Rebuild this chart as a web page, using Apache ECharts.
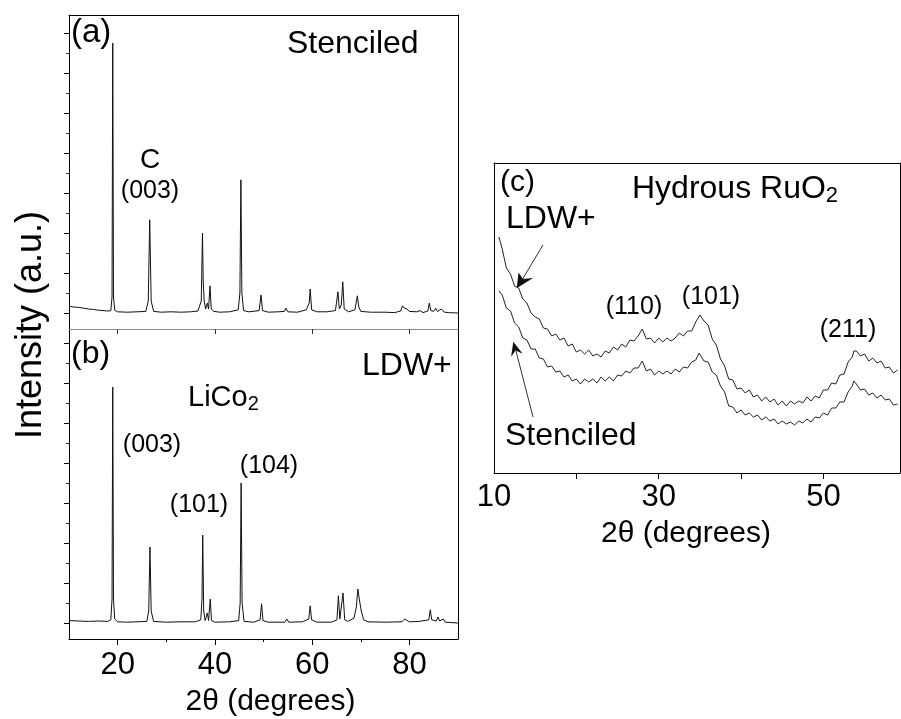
<!DOCTYPE html>
<html><head><meta charset="utf-8">
<script src="https://cdn.jsdelivr.net/npm/echarts@6/dist/echarts.min.js"></script>
<style>html,body{margin:0;padding:0;background:#fff}#chart{width:901px;height:719px}</style>
</head><body><div id="chart"></div>
<script>
const FONT = '"Liberation Sans", Arial, Helvetica, sans-serif';

// (a) Stenciled LiCoO2 XRD: [2theta, intensity a.u.]
const stenciledXRD = [[10,0.17],[11,0.15],[12,0.14],[13,0.12],[14,0.10],[15,0.09],[16,0.07],[17,0.06],[18,0.05],[18.6,0.06],[18.85,0.4],[19.0,6.75],[19.15,0.4],[19.4,0.07],[20,0.03],[22,0.02],[24,0.03],[25.8,0.04],[26.3,0.3],[26.6,2.33],[26.9,0.3],[27.4,0.04],[29,0.02],[31,0.03],[33,0.02],[35,0.03],[36.5,0.05],[37.2,0.3],[37.45,2.0],[37.6,0.8],[37.8,0.3],[38.1,0.1],[38.45,0.25],[38.7,0.1],[39.0,0.68],[39.25,0.1],[39.8,0.04],[41,0.02],[43,0.03],[44.8,0.08],[45.15,0.5],[45.35,3.33],[45.55,0.5],[45.9,0.06],[47,0.03],[49.1,0.06],[49.5,0.45],[49.8,0.06],[51,0.02],[53,0.03],[54.3,0.04],[54.6,0.12],[55,0.03],[57,0.02],[58.8,0.08],[59.4,0.25],[59.6,0.6],[59.9,0.08],[61,0.03],[63,0.03],[64.8,0.06],[65.3,0.53],[65.6,0.1],[66.0,0.2],[66.3,0.78],[66.6,0.1],[67.5,0.03],[68.8,0.08],[69.3,0.43],[69.6,0.15],[70,0.04],[72,0.02],[75,0.02],[77,0.01],[78.2,0.05],[78.6,0.18],[79,0.12],[79.5,0.1],[80,0.04],[81.5,0.03],[82.2,0.06],[82.8,0.01],[83.8,0.05],[84.1,0.25],[84.4,0.06],[85,0.04],[85.4,0.12],[85.8,0.04],[86.6,0.1],[87.2,0.02],[88,0.01],[90,0.0]];

// (b) LDW+ LiCoO2 XRD
const ldwXRD = [[10,0.06],[12,0.05],[14,0.04],[16,0.05],[18,0.04],[18.6,0.08],[18.85,0.6],[19.0,5.9],[19.15,0.6],[19.4,0.1],[20,0.03],[22,0.02],[24,0.03],[26,0.04],[26.4,0.3],[26.65,1.9],[26.9,0.3],[27.4,0.04],[30,0.02],[33,0.03],[36,0.03],[37.1,0.08],[37.35,0.6],[37.5,2.2],[37.7,0.3],[38.0,0.06],[38.45,0.25],[38.7,0.06],[39.05,0.6],[39.3,0.06],[40,0.02],[43,0.03],[44.9,0.06],[45.2,0.5],[45.4,3.5],[45.6,0.5],[46,0.04],[48,0.02],[49.3,0.08],[49.6,0.48],[49.9,0.06],[51,0.02],[54.4,0.02],[54.8,0.1],[55.2,0.02],[58,0.03],[59.3,0.1],[59.6,0.43],[59.9,0.08],[61,0.02],[64,0.02],[65.1,0.08],[65.4,0.68],[65.7,0.1],[66.1,0.15],[66.35,0.75],[66.7,0.08],[67.3,0.04],[68.6,0.12],[69.1,0.4],[69.4,0.85],[69.7,0.6],[70.1,0.3],[70.6,0.08],[71.5,0.03],[75,0.02],[78.5,0.03],[79,0.1],[79.4,0.06],[80,0.03],[82,0.04],[84,0.08],[84.3,0.33],[84.6,0.08],[85.5,0.05],[85.9,0.15],[86.2,0.05],[87,0.1],[87.4,0.02],[90,0.0]];

// (c) Hydrous RuO2, LDW+ (upper trace)
const ruo2LDW = [[10.6,236],[11.0,224],[11.5,205],[12.0,199],[12.5,187],[13.0,185],[13.5,174],[14.0,170],[14.5,160],[15.0,156],[15.5,154],[16.0,145],[16.5,144],[17.0,137],[17.5,139],[18.0,133],[18.5,135],[19.0,127],[19.5,129],[20.0,121],[20.5,123],[21.0,119],[21.5,123],[22.0,117],[22.5,119],[23.0,116],[23.5,122],[24.0,120],[24.5,126],[25.0,123],[25.5,129],[26.0,126],[26.5,133],[27.0,132],[27.5,137],[28.0,144],[28.5,134],[29.0,135],[29.5,130],[30.0,135],[30.5,131],[31.0,135],[31.5,132],[32.0,135],[32.5,140],[33.0,137],[33.5,142],[34.0,142],[34.5,151],[35.0,158],[35.5,152],[36.0,148],[36.5,134],[37.0,128],[37.5,114],[38.0,107],[38.5,94],[39.0,93],[39.5,84],[40.0,85],[40.5,80],[41.0,83],[41.5,76],[42.0,78],[42.5,72],[43.0,76],[43.5,71],[44.0,74],[44.5,68],[45.0,72],[45.5,67],[46.0,72],[46.5,69],[47.0,72],[47.5,70],[48.0,76],[48.5,72],[49.0,77],[49.5,75],[50.0,83],[50.5,83],[51.0,90],[51.5,89],[52.0,98],[52.5,99],[53.0,111],[53.5,116],[53.7,122],[54.0,122],[54.5,117],[55.0,119],[55.5,112],[56.0,115],[56.5,110],[57.0,112],[57.5,105],[58.0,106],[58.5,100],[59.0,103]];

// (c) Hydrous RuO2, Stenciled (lower trace)
const ruo2Stenciled = [[10.6,182],[11.0,178],[11.5,165],[12.0,162],[12.5,150],[13.0,146],[13.5,135],[14.0,133],[14.5,124],[15.0,124],[15.5,115],[16.0,114],[16.5,106],[17.0,107],[17.5,101],[18.0,102],[18.5,96],[19.0,98],[19.5,92],[20.0,94],[20.5,89],[21.0,94],[21.5,91],[22.0,94],[22.5,90],[23.0,96],[23.5,92],[24.0,96],[24.5,92],[25.0,98],[25.5,97],[26.0,102],[26.5,100],[27.0,105],[27.5,105],[28.0,112],[28.5,102],[29.0,104],[29.5,98],[30.0,102],[30.5,99],[31.0,102],[31.5,99],[32.0,104],[32.5,101],[33.0,106],[33.5,105],[34.0,111],[34.5,113],[34.9,120],[35.5,112],[36.0,111],[36.5,101],[37.0,98],[37.5,87],[38.0,81],[38.5,67],[39.0,66],[39.5,60],[40.0,63],[40.5,58],[41.0,60],[41.5,56],[42.0,58],[42.5,53],[43.0,56],[43.5,52],[44.0,54],[44.5,49],[45.0,52],[45.5,49],[46.0,51],[46.5,48],[47.0,52],[47.5,50],[48.0,54],[48.5,51],[49.0,56],[49.5,55],[50.0,60],[50.5,58],[51.0,65],[51.5,65],[52.0,71],[52.5,71],[53.0,81],[53.5,87],[53.7,92],[54.0,89],[54.5,83],[55.0,84],[55.5,78],[56.0,80],[56.5,75],[57.0,78],[57.5,73],[58.0,74],[58.5,68],[59.0,69]];

// tick / label values
const xMajorTicksAB = [20, 40, 60, 80];
const xMinorTicksAB = [30, 50, 70];
const yMajorTicksAB = [0, 1, 2, 3, 4, 5, 6, 7];
const yMinorTicksAB = [0.5, 1.5, 2.5, 3.5, 4.5, 5.5, 6.5];
const xTicksC = [20, 30, 40, 50];
const xLabelsC = [10, 30, 50];

const BLACK = '#000';
const line = (show) => ({show: show, onZero: false, lineStyle: {color: BLACK, width: 1}});
const off = {show: false};

function axis(o) {
  return Object.assign({
    type: 'value', splitLine: off, axisLabel: off, axisTick: off, axisLine: line(false)
  }, o);
}

const xAxis = [
  axis({gridIndex: 0, position: 'bottom', min: 10, max: 90,
        axisLine: {show: true, onZero: false, lineStyle: {color: '#777', width: 1, type: 'dotted'}},
        axisTick: {show: true, length: 5, customValues: xMajorTicksAB, lineStyle: {color: '#333'}}}),
  axis({gridIndex: 0, position: 'top', min: 10, max: 90, axisLine: line(true)}),
  axis({gridIndex: 1, position: 'bottom', min: 10, max: 90, axisLine: line(true),
        axisTick: {show: true, length: 6, customValues: xMajorTicksAB, lineStyle: {color: BLACK}},
        axisLabel: {show: true, customValues: xMajorTicksAB, fontFamily: FONT, fontSize: 31, color: BLACK, margin: 11},
        name: '2θ (degrees)', nameLocation: 'middle', nameGap: 48,
        nameTextStyle: {fontFamily: FONT, fontSize: 30, color: BLACK, padding: [0, 0, 0, 14]}}),
  axis({gridIndex: 1, position: 'bottom', min: 10, max: 90,
        axisTick: {show: true, length: 3, customValues: xMinorTicksAB, lineStyle: {color: BLACK}}}),
  axis({gridIndex: 2, position: 'bottom', min: 10, max: 59.3, axisLine: line(true),
        axisTick: {show: true, length: 6, customValues: xTicksC, lineStyle: {color: BLACK}},
        axisLabel: {show: true, customValues: xLabelsC, showMinLabel: true, fontFamily: FONT, fontSize: 31, color: BLACK, margin: 9},
        name: '2θ (degrees)', nameLocation: 'middle', nameGap: 46,
        nameTextStyle: {fontFamily: FONT, fontSize: 30, color: BLACK, padding: [0, 22, 0, 0]}}),
  axis({gridIndex: 2, position: 'top', min: 10, max: 59.3, axisLine: line(true)})
];

const yAxis = [
  axis({gridIndex: 0, position: 'left', min: -0.4, max: 7.45, axisLine: line(true),
        axisTick: {show: true, length: 5, customValues: yMajorTicksAB, lineStyle: {color: BLACK}}}),
  axis({gridIndex: 0, position: 'left', min: -0.4, max: 7.45,
        axisTick: {show: true, length: 3, customValues: yMinorTicksAB, lineStyle: {color: '#333'}}}),
  axis({gridIndex: 0, position: 'right', min: -0.4, max: 7.45, axisLine: line(true)}),
  axis({gridIndex: 1, position: 'left', min: -0.4, max: 7.35, axisLine: line(true),
        axisTick: {show: true, length: 5, customValues: yMajorTicksAB, lineStyle: {color: BLACK}}}),
  axis({gridIndex: 1, position: 'left', min: -0.4, max: 7.35,
        axisTick: {show: true, length: 3, customValues: yMinorTicksAB, lineStyle: {color: '#333'}}}),
  axis({gridIndex: 1, position: 'right', min: -0.4, max: 7.35, axisLine: line(true)}),
  axis({gridIndex: 2, position: 'left', min: 0, max: 310, axisLine: line(true)}),
  axis({gridIndex: 2, position: 'right', min: 0, max: 310, axisLine: line(true)})
];

function trace(data, xi, yi, color) {
  return {type: 'line', data: data, xAxisIndex: xi, yAxisIndex: yi, symbol: 'none',
          smooth: false, animation: false, z: 5,
          lineStyle: {color: color, width: 1}};
}

function txt(text, x, y, size, align, rich) {
  const t = {type: 'text', x: x, y: y, z: 50,
    style: {text: text, fill: BLACK, font: size + 'px ' + FONT,
            align: align || 'left', verticalAlign: 'middle'}};
  if (rich) t.style.rich = rich;
  return t;
}
const subRich = (size) => ({
  m: {fontSize: size, fontFamily: FONT, fill: BLACK},
  s: {fontSize: Math.round(size * 0.7), fontFamily: FONT, fill: BLACK, padding: [13, 0, 0, 0]}
});

function arrowHead(tip, b1, notch, b2) {
  return {type: 'polygon', z: 50, shape: {points: [tip, b1, notch, b2]}, style: {fill: '#111'}};
}

const yTitle = txt('Intensity (a.u.)', 31, 325, 36, 'center');
yTitle.rotation = Math.PI / 2;

const graphic = [
  yTitle,
  txt('(a)', 71, 33, 33),
  txt('Stenciled', 287, 44, 32),
  txt('C', 150, 160, 28, 'center'),
  txt('(003)', 150, 191, 25, 'center'),
  txt('(b)', 71, 354, 32),
  txt('LDW+', 362, 366, 32),
  txt('{m|LiCo}{s|2}', 188, 398, 29, 'left', subRich(29)),
  txt('(003)', 152, 445, 25, 'center'),
  txt('(104)', 269, 466, 25, 'center'),
  txt('(101)', 199, 505, 25, 'center'),
  txt('(c)', 500, 183, 30),
  txt('{m|Hydrous RuO}{s|2}', 632, 189, 32, 'left', subRich(32)),
  txt('LDW+', 506, 219, 32),
  txt('(110)', 634, 307, 25, 'center'),
  txt('(101)', 711, 297, 25, 'center'),
  txt('(211)', 848, 330, 25, 'center'),
  txt('Stenciled', 505, 436, 32),
  {type: 'line', z: 50, shape: {x1: 543, y1: 245, x2: 522, y2: 280}, style: {stroke: '#333', lineWidth: 1}},
  arrowHead([516.7, 288.3], [518.5, 272.5], [523, 279], [533, 278]),
  {type: 'line', z: 50, shape: {x1: 533, y1: 417, x2: 516, y2: 351}, style: {stroke: '#333', lineWidth: 1}},
  arrowHead([513.3, 341.7], [522.7, 353.7], [515.6, 350.4], [511.1, 356.7])
];

const chart = echarts.init(document.getElementById('chart'), null, {renderer: 'canvas'});
chart.setOption({
  backgroundColor: '#fff',
  animation: false,
  textStyle: {fontFamily: FONT},
  grid: [
    {left: 69, top: 15, width: 389, height: 314},
    {left: 69, top: 329, width: 389, height: 310},
    {left: 494, top: 163, width: 406, height: 310}
  ],
  xAxis: xAxis,
  yAxis: yAxis,
  series: [
    trace(stenciledXRD, 0, 0, '#111'),
    trace(ldwXRD, 2, 3, '#111'),
    trace(ruo2LDW, 4, 6, '#222'),
    trace(ruo2Stenciled, 4, 6, '#222')
  ],
  graphic: graphic
});
</script></body></html>
